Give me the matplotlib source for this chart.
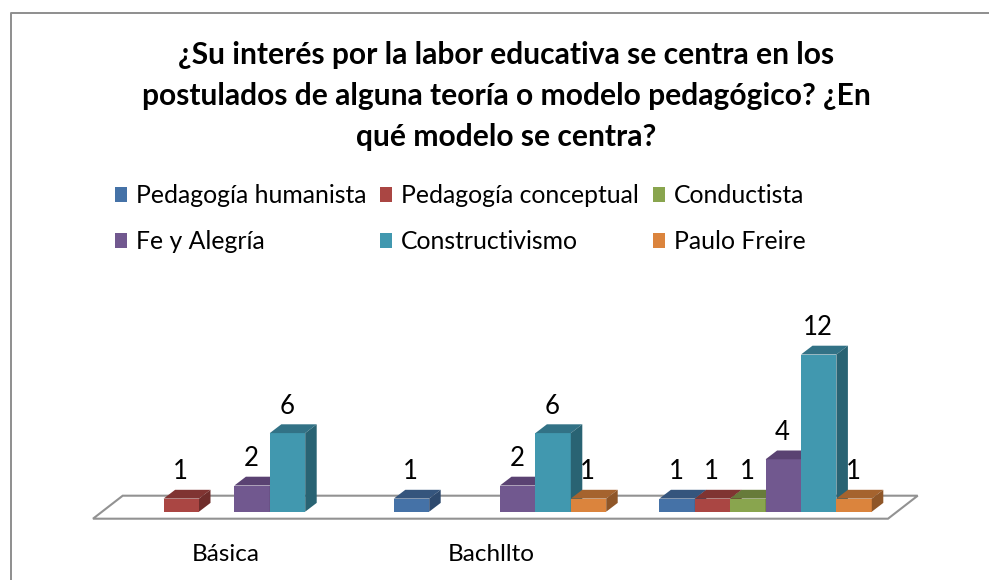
# -*- coding: utf-8 -*-
import numpy as np
import matplotlib
matplotlib.use("Agg")
import matplotlib.pyplot as plt
from matplotlib.lines import Line2D
from matplotlib.patches import Polygon, Rectangle

titulo = ("¿Su interés por la labor educativa se centra en los\n"
          "postulados de alguna teoría o modelo pedagógico? ¿En\n"
          "qué modelo se centra?")
grupos = ["Básica", "Bachllto", ""]
series = ["Pedagogía humanista", "Pedagogía conceptual", "Conductista",
          "Fe y Alegría", "Constructivismo", "Paulo Freire"]

humanista = [0, 1, 1]
conceptual = [1, 0, 1]
conductista = [0, 0, 1]
fe_alegria = [2, 2, 4]
constructivismo = [6, 6, 12]
paulo_freire = [0, 1, 1]
valores = [humanista, conceptual, conductista, fe_alegria, constructivismo, paulo_freire]

frente = ["#4572A7", "#AA4643", "#89A54E", "#71588F", "#4198AF", "#DB843D"]
arriba = ["#35557D", "#803432", "#677B3A", "#5A4272", "#327286", "#A5632E"]
lado = ["#2E4A6E", "#6F2D2B", "#596B32", "#4E3963", "#296373", "#8F5628"]

W, H = 989, 580
plt.rcParams["font.family"] = ["Lato", "DejaVu Sans"]
fig = plt.figure(figsize=(W / 100, H / 100), dpi=100)

# marco del grafico: solo se ve arriba y a la izquierda
fig.add_artist(Line2D([10.5 / W, 10.5 / W, 1], [0, 1 - 12.5 / H, 1 - 12.5 / H],
                      transform=fig.transFigure, color="#8e8e8e", lw=1.4))
fig.text(506.5 / W, 1 - 96 / H, titulo, ha="center", va="center", fontsize=21.6,
         fontweight="bold", linespacing=1.57, color="black")

# ejes en pixeles de la imagen: 265.6 px por categoria, 13.1 px por unidad
ax = fig.add_axes([93 / W, 1 - 518.7 / H, 795 / W, 218.7 / H])
px_x, px_y = 265.6, 13.1
ax.set_xlim(-141.4 / px_x, 2 + 122.4 / px_x)
ax.set_ylim(-7 / px_y, 211.7 / px_y)
ax.patch.set_alpha(0)
for s in ax.spines.values():
    s.set_visible(False)
ax.set_yticks([])

# piso
x0, x1 = ax.get_xlim()
y0 = ax.get_ylim()[0]
y_fondo = 16 / px_y
sesgo = 29.7 / px_x
ax.add_patch(Polygon([(x0, y0), (x1, y0), (x1 + sesgo, y_fondo), (x0 + sesgo, y_fondo)],
                     closed=True, fc="white", ec="#929292", lw=1.5, clip_on=False, zorder=1))

ancho = 35.4 / px_x
dx = 11.5 / px_x
dy = 8.8 / px_y
z = 2
for c in range(len(grupos)):
    for i in range(len(series)):
        v = valores[i][c]
        if v == 0:
            continue
        izq = c + (i - 3) * ancho
        der = izq + ancho
        ax.bar(izq, v, ancho, align="edge", color=frente[i], zorder=z)
        ax.add_patch(Polygon([(izq, v), (der, v), (der + dx, v + dy), (izq + dx, v + dy)],
                             closed=True, fc=arriba[i], ec="none", zorder=z))
        ax.add_patch(Polygon([(der, 0), (der + dx, dy), (der + dx, v + dy), (der, v)],
                             closed=True, fc=lado[i], ec="none", zorder=z))
        z += 1
        ax.annotate(str(v), (izq + ancho / 2, v), xytext=(-0.5, 19.5), textcoords="offset points",
                    ha="center", va="center", fontsize=18.5, color="black", zorder=50)

ax.set_xticks(np.arange(len(grupos)) - 8.5 / px_x)
ax.set_xticklabels(grupos, fontsize=17.5)
ax.tick_params(axis="x", length=0, pad=18)

# leyenda con el orden por filas del original
orden = [0, 3, 1, 4, 2, 5]
manijas = [Rectangle((0, 0), 1, 1, fc=frente[i], ec="none") for i in orden]
fig.legend(manijas, [series[i] for i in orden], ncol=3, loc="upper left",
           bbox_to_anchor=(115 / W, 1 - 184 / H), frameon=False, fontsize=17.8,
           handlelength=0.49, handleheight=0.55, handletextpad=0.36,
           columnspacing=0.55, labelspacing=0.95, borderpad=0, borderaxespad=0)

fig.savefig("out.png", dpi=100)
